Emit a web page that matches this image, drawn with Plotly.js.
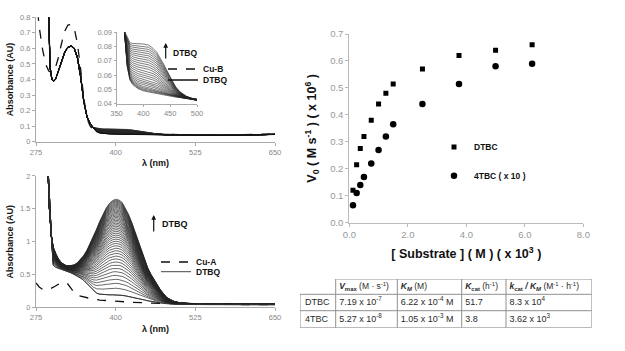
<!DOCTYPE html>
<html>
<head>
<meta charset="utf-8">
<script src="https://cdn.plot.ly/plotly-3.0.1.min.js"></script>
<style>html,body{margin:0;padding:0;background:#fff;}#chart{width:625px;height:351px;}</style>
</head>
<body>
<div id="chart"></div>
<script>
// ---------- Top panel (Cu-B + DTBQ growth) ----------
const wlCuB = [275, 278, 280, 285, 290, 295, 300, 305, 310, 315, 320, 325, 330, 335, 340, 345, 350, 355, 360, 365, 370, 380, 400, 450, 500, 550, 600, 650];
const cuB   = [0.95, 0.82, 0.74, 0.60, 0.50, 0.455, 0.444, 0.47, 0.54, 0.63, 0.71, 0.75, 0.755, 0.73, 0.63, 0.47, 0.28, 0.15, 0.10, 0.075, 0.064, 0.057, 0.054, 0.050, 0.046, 0.045, 0.046, 0.050];

const wlTop = [294, 297, 300, 303, 306, 310, 315, 320, 325, 330, 335, 340, 345, 350, 355, 360, 365, 370, 375, 380, 390, 400, 410, 418, 425, 437, 450, 460, 468, 480, 490, 500, 525, 550, 575, 600, 625, 650];
const dtbqTopFirst = [1.0, 0.48, 0.40, 0.39, 0.405, 0.45, 0.52, 0.575, 0.607, 0.615, 0.60, 0.54, 0.42, 0.26, 0.16, 0.115, 0.09, 0.066, 0.0566, 0.0535, 0.0505, 0.049, 0.0482, 0.0476, 0.047, 0.0461, 0.0452, 0.0446, 0.0443, 0.0436, 0.0430, 0.0421, 0.041, 0.0405, 0.041, 0.0425, 0.0445, 0.047];
const dtbqTopLast  = [1.0, 0.48, 0.40, 0.39, 0.405, 0.45, 0.52, 0.575, 0.607, 0.615, 0.60, 0.54, 0.42, 0.26, 0.16, 0.115, 0.09, 0.087, 0.0827, 0.0822, 0.082, 0.0818, 0.081, 0.0788, 0.076, 0.0683, 0.0589, 0.052, 0.0484, 0.0452, 0.0438, 0.0428, 0.0413, 0.0407, 0.0412, 0.0427, 0.0447, 0.0472];
// absorbance at 400 nm of each recorded DTBQ spectrum (top panel)
const dtbqTopAt400 = [0.049, 0.0496, 0.0503, 0.0511, 0.052, 0.0531, 0.0543, 0.0556, 0.057, 0.0585, 0.060, 0.0616, 0.0632, 0.0648, 0.0664, 0.068, 0.0696, 0.0712, 0.0728, 0.0743, 0.0758, 0.0773, 0.0788, 0.0803, 0.0818];

// ---------- Bottom panel (Cu-A + DTBQ growth) ----------
const wlCuA = [275, 280, 285, 290, 295, 300, 305, 310, 315, 320, 325, 330, 335, 340, 350, 360, 375, 400, 425, 450, 475, 500, 550, 600, 650];
const cuA   = [0.37, 0.31, 0.275, 0.265, 0.27, 0.29, 0.32, 0.35, 0.375, 0.38, 0.355, 0.29, 0.215, 0.18, 0.155, 0.135, 0.11, 0.09, 0.077, 0.066, 0.057, 0.050, 0.045, 0.042, 0.040];

const wlBot = [293, 296, 299, 302, 306, 310, 315, 320, 325, 330, 335, 340, 345, 350, 355, 360, 365, 370, 375, 380, 385, 390, 395, 400, 405, 410, 415, 420, 425, 430, 435, 440, 445, 450, 455, 460, 465, 470, 475, 480, 490, 500, 510, 525, 550, 575, 600, 625, 650];
const dtbqBotFirst = [2.3, 1.6, 1.1, 0.64, 0.61, 0.595, 0.58, 0.565, 0.545, 0.525, 0.50, 0.475, 0.445, 0.41, 0.36, 0.30, 0.25, 0.215, 0.20, 0.193, 0.19, 0.19, 0.19, 0.19, 0.187, 0.182, 0.175, 0.166, 0.156, 0.146, 0.135, 0.124, 0.112, 0.10, 0.09, 0.081, 0.073, 0.066, 0.06, 0.056, 0.05, 0.046, 0.044, 0.042, 0.041, 0.04, 0.04, 0.04, 0.04];
const dtbqBotLast  = [2.3, 1.5, 1.1, 0.92, 0.82, 0.74, 0.68, 0.645, 0.63, 0.635, 0.645, 0.68, 0.73, 0.79, 0.87, 0.97, 1.075, 1.19, 1.31, 1.42, 1.51, 1.58, 1.625, 1.645, 1.635, 1.60, 1.52, 1.42, 1.30, 1.16, 1.01, 0.86, 0.73, 0.61, 0.51, 0.42, 0.35, 0.27, 0.20, 0.15, 0.095, 0.07, 0.06, 0.055, 0.053, 0.052, 0.051, 0.051, 0.05];
// absorbance at 400 nm of each recorded DTBQ spectrum (bottom panel)
const dtbqBotAt400 = [0.19, 0.29, 0.365, 0.426, 0.487, 0.543, 0.594, 0.644, 0.69, 0.736, 0.78, 0.822, 0.862, 0.90, 0.937, 0.972, 1.006, 1.039, 1.07, 1.10, 1.129, 1.157, 1.184, 1.21, 1.235, 1.259, 1.282, 1.305, 1.327, 1.348, 1.369, 1.389, 1.409, 1.428, 1.447, 1.466, 1.484, 1.502, 1.52, 1.537, 1.554, 1.57, 1.586, 1.602, 1.617, 1.631, 1.645];

// ---------- Kinetics ----------
const substrate = [0.125, 0.25, 0.375, 0.5, 0.75, 1.0, 1.25, 1.5, 2.5, 3.75, 5.0, 6.25];
const dtbcV0    = [0.12, 0.215, 0.275, 0.32, 0.38, 0.44, 0.48, 0.515, 0.57, 0.62, 0.64, 0.66];
const tbcV0     = [0.065, 0.11, 0.14, 0.17, 0.22, 0.27, 0.32, 0.365, 0.44, 0.515, 0.58, 0.59];

// ---------- Table ----------
const tableHeader = ['', '<b><i>V</i></b><sub><b>max</b></sub> (M · s<sup>-1</sup>)', '<b><i>K</i></b><sub><b><i>M</i></b></sub> (M)', '<b><i>K</i></b><sub><b>cat</b></sub> (h<sup>-1</sup>)', '<b><i>k</i></b><sub><b>cat</b></sub><b><i> / K</i></b><sub><b><i>M</i></b></sub> (M<sup>-1</sup> · h<sup>-1</sup>)'];
const rowLabel = ['DTBC', '4TBC'];
const vmaxVal  = ['7.19 x 10<sup>-7</sup>', '5.27 x 10<sup>-8</sup>'];
const kmVal    = ['6.22 x 10<sup>-4</sup> M', '1.05 x 10<sup>-3</sup> M'];
const kcatVal  = ['51.7', '3.8'];
const effVal   = ['8.3 x 10<sup>4</sup>', '3.62 x 10<sup>3</sup>'];

// ---------- build ----------
const FONT = 'Liberation Sans, Arial, sans-serif';
const traces = [];
function family(wl, first, last, levels, xa, ya, w) {
  const i400 = wl.indexOf(400);
  levels.forEach((lv) => {
    const f = (lv - first[i400]) / (last[i400] - first[i400]);
    traces.push({
      type: 'scatter', mode: 'lines', x: wl, y: first.map((v, j) => v + f * (last[j] - v)),
      xaxis: xa, yaxis: ya, line: {color: '#262626', width: w},
      showlegend: false, hoverinfo: 'skip'
    });
  });
}
// top main
traces.push({type:'scatter', mode:'lines', x: wlCuB, y: cuB, xaxis:'x', yaxis:'y', name:'<b>Cu-B</b>', line:{color:'#111', width:1.3, dash:'dash'}, legend:'legend'});
family(wlTop, dtbqTopFirst, dtbqTopLast, dtbqTopAt400, 'x', 'y', 0.7);
traces.push({type:'scatter', mode:'lines', x: wlTop, y: dtbqTopFirst, xaxis:'x', yaxis:'y', name:'<b>DTBQ</b>', line:{color:'#111', width:1.3}, legend:'legend2'});
// inset
family(wlTop, dtbqTopFirst, dtbqTopLast, dtbqTopAt400, 'x2', 'y2', 0.6);
// bottom
family(wlBot, dtbqBotFirst, dtbqBotLast, dtbqBotAt400, 'x3', 'y3', 0.7);
traces.push({type:'scatter', mode:'lines', x: wlCuA, y: cuA, xaxis:'x3', yaxis:'y3', name:'<b>Cu-A</b>', line:{color:'#111', width:1.3, dash:'dash'}, legend:'legend3'});
traces.push({type:'scatter', mode:'lines', x: wlBot, y: dtbqBotFirst, xaxis:'x3', yaxis:'y3', name:'<b>DTBQ</b>', line:{color:'#333', width:0.9}, legend:'legend4'});
// kinetics
traces.push({type:'scatter', mode:'markers', x: substrate, y: dtbcV0, xaxis:'x4', yaxis:'y4', name:'<b>DTBC</b>', marker:{symbol:'square', size:5, color:'#000'}, legend:'legend5'});
traces.push({type:'scatter', mode:'markers', x: substrate, y: tbcV0, xaxis:'x4', yaxis:'y4', name:'<b>4TBC ( x 10 )</b>', marker:{symbol:'circle', size:6.5, color:'#000'}, legend:'legend6'});

// table, drawn on its own pixel-unit axes (x5/y5)
const colW = [35.7, 61.6, 64.4, 44.3, 85.7];
const rowH = [15.3, 16.4, 17];
const xb = [0]; colW.forEach(w => xb.push(xb[xb.length - 1] + w));
const yb = [0]; rowH.forEach(h => yb.push(yb[yb.length - 1] + h));
const W = xb[xb.length - 1], H = yb[yb.length - 1];
const gx = [], gy = [];
yb.forEach((y, i) => { gx.push(i === 0 ? xb[1] : 0, W, null); gy.push(y, y, null); });
xb.forEach((x, i) => { gx.push(x, x, null); gy.push(i === 0 ? yb[1] : 0, H, null); });
traces.push({type:'scatter', mode:'lines', x: gx, y: gy, xaxis:'x5', yaxis:'y5', line:{color:'#8f8f8f', width:1}, showlegend:false, hoverinfo:'skip', cliponaxis:false});
const tableCols = [[tableHeader[0]].concat(rowLabel), [tableHeader[1]].concat(vmaxVal), [tableHeader[2]].concat(kmVal), [tableHeader[3]].concat(kcatVal), [tableHeader[4]].concat(effVal)];
const tx = [], ty = [], tt = [], ts = [];
tableCols.forEach((col, c) => col.forEach((s, r) => {
  tx.push(xb[c] + (c === 0 ? 5 : 3.5)); ty.push((yb[r] + yb[r + 1]) / 2 + 0.3); tt.push(s); ts.push(r === 0 ? 8.5 : 9);
}));
traces.push({type:'scatter', mode:'text', x: tx, y: ty, text: tt, textposition:'middle right', xaxis:'x5', yaxis:'y5',
  textfont:{family: FONT, size: ts, color:'#2a2a2a'}, marker:{size:0}, showlegend:false, hoverinfo:'skip', cliponaxis:false});

const tickF = {family: FONT, size: 7.5, color: '#888'};
function specX(domain, anchor, title) {
  return {domain, anchor, range: [275, 650], tickvals: [275, 400, 525, 650], showline: true, linecolor: '#aaa', linewidth: 1,
    ticks: 'outside', ticklen: 3, tickcolor: '#aaa', tickfont: tickF, showgrid: false, zeroline: false,
    title: {text: title, font: {family: FONT, size: 9, color: '#111'}, standoff: 4}};
}
const layout = {
  width: 625, height: 351, margin: {l: 0, r: 0, t: 0, b: 0}, paper_bgcolor: '#fff', plot_bgcolor: 'rgba(0,0,0,0)',
  font: {family: FONT}, showlegend: true,
  xaxis: specX([0.0576, 0.44], 'y', '<b>λ (nm)</b>'),
  yaxis: {domain: [0.5963, 0.9507], anchor: 'x', range: [0, 0.8], dtick: 0.1, showline: true, linecolor: '#aaa', ticks: 'outside', ticklen: 3, tickcolor: '#aaa', tickfont: tickF, showgrid: false, zeroline: false,
    title: {text: '<b>Absorbance (AU)</b>', font: {family: FONT, size: 9, color: '#111'}, standoff: 4}},
  xaxis2: {domain: [0.1864, 0.3152], anchor: 'y2', range: [350, 500], tickvals: [350, 400, 450, 500], showline: true, linecolor: '#aaa', ticks: 'outside', ticklen: 2, tickcolor: '#aaa', tickfont: tickF, showgrid: false, zeroline: false},
  yaxis2: {domain: [0.7046, 0.908], anchor: 'x2', range: [0.04, 0.09], dtick: 0.01, tickformat: '.2f', showline: true, linecolor: '#aaa', ticks: 'outside', ticklen: 2, tickcolor: '#aaa', tickfont: tickF, showgrid: false, zeroline: false},
  xaxis3: specX([0.0576, 0.44], 'y3', '<b>λ (nm)</b>'),
  yaxis3: {domain: [0.1245, 0.4986], anchor: 'x3', range: [0, 2], dtick: 0.5, showline: true, linecolor: '#aaa', ticks: 'outside', ticklen: 3, tickcolor: '#aaa', tickfont: tickF, showgrid: false, zeroline: false,
    title: {text: '<b>Absorbance (AU)</b>', font: {family: FONT, size: 9, color: '#111'}, standoff: 4}},
  xaxis4: {domain: [0.5589, 0.9333], anchor: 'y4', range: [0, 8], dtick: 2, tickformat: '.1f', showline: true, linecolor: '#bbb', ticks: 'outside', ticklen: 3, tickcolor: '#bbb',
    tickfont: {family: FONT, size: 9.5, color: '#999'}, showgrid: false, zeroline: false,
    title: {text: '<b>[ Substrate ] ( M ) ( x 10<sup>3</sup> )</b>', font: {family: FONT, size: 12.5, color: '#111'}, standoff: 10}},
  yaxis4: {domain: [0.3655, 0.9031], anchor: 'x4', range: [0, 0.7], dtick: 0.1, tickformat: '.1f', showline: true, linecolor: '#bbb', ticks: 'outside', ticklen: 3, tickcolor: '#bbb',
    tickfont: {family: FONT, size: 9.5, color: '#999'}, showgrid: false, zeroline: false,
    title: {text: '<b>V<sub>0</sub> ( M s<sup>-1</sup> ) ( x 10<sup>6</sup> )</b>', font: {family: FONT, size: 12.5, color: '#111'}, standoff: 10}},
  xaxis5: {domain: [300/625, (300 + W)/625], anchor: 'y5', range: [0, W], visible: false, fixedrange: true},
  yaxis5: {domain: [1 - (279 + H)/351, 1 - 279/351], anchor: 'x5', range: [H, 0], visible: false, fixedrange: true},
  annotations: [
    {xref: 'paper', yref: 'paper', x: 165.7/625, y: 1 - 43/351, ax: 0, ay: 17, text: '', showarrow: true, arrowhead: 2, arrowsize: 0.8, arrowwidth: 1.2, arrowcolor: '#111'},
    {xref: 'paper', yref: 'paper', x: 171/625, y: 1 - 52.5/351, xanchor: 'left', yanchor: 'middle', showarrow: false, text: '<b>DTBQ</b>', font: {family: FONT, size: 8.5, color: '#111'}},
    {xref: 'paper', yref: 'paper', x: 153.7/625, y: 1 - 215/351, ax: 0, ay: 18, text: '', showarrow: true, arrowhead: 2, arrowsize: 0.8, arrowwidth: 1.2, arrowcolor: '#111'},
    {xref: 'paper', yref: 'paper', x: 159.5/625, y: 1 - 224.3/351, xanchor: 'left', yanchor: 'middle', showarrow: false, text: '<b>DTBQ</b>', font: {family: FONT, size: 9, color: '#111'}}
  ]
};
function lg(xText, yc) {
  return {x: (xText - 40) / 625, y: 1 - yc / 351, xanchor: 'left', yanchor: 'middle', bgcolor: 'rgba(0,0,0,0)', borderwidth: 0,
    font: {family: FONT, size: 8.5, color: '#111'}, tracegroupgap: 0};
}
layout.legend  = lg(203, 69);
layout.legend2 = lg(203, 80);
layout.legend3 = lg(196, 262);
layout.legend4 = lg(196, 271.7);
layout.legend5 = lg(474, 147);
layout.legend6 = lg(474, 175.7);

Plotly.newPlot('chart', traces, layout, {staticPlot: true, displayModeBar: false});
</script>
</body>
</html>
